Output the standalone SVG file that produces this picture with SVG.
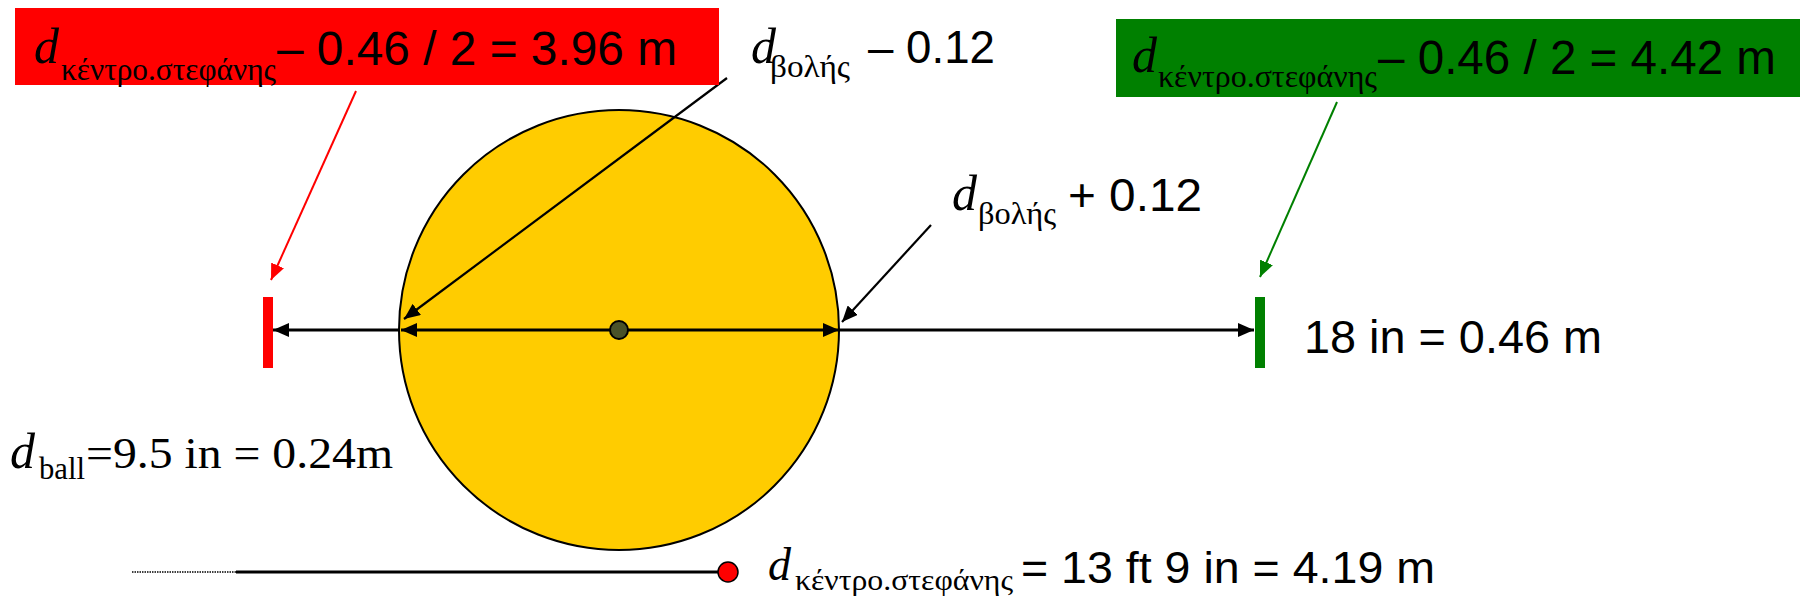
<svg xmlns="http://www.w3.org/2000/svg" width="1800" height="604" viewBox="0 0 1800 604">
<style>
.ital{font-family:"Liberation Serif","Times New Roman",serif;font-style:italic}
.ser{font-family:"Liberation Serif","Times New Roman",serif}
.san{font-family:"Liberation Sans",Arial,sans-serif}
.blk{stroke:#000;stroke-width:3;fill:none}
.ptr{stroke:#000;stroke-width:2.2;fill:none}
</style>
<defs>
<marker id="ah" viewBox="0 0 16 14" refX="16" refY="7" markerWidth="16" markerHeight="14" markerUnits="userSpaceOnUse" orient="auto"><path d="M0,0 L16,7 L0,14 z" fill="#000"/></marker>
<marker id="ahr" viewBox="0 0 16 14" refX="16" refY="7" markerWidth="16" markerHeight="14" markerUnits="userSpaceOnUse" orient="auto"><path d="M0,0 L16,7 L0,14 z" fill="#ff0000"/></marker>
<marker id="ahg" viewBox="0 0 16 14" refX="16" refY="7" markerWidth="16" markerHeight="14" markerUnits="userSpaceOnUse" orient="auto"><path d="M0,0 L16,7 L0,14 z" fill="#008000"/></marker>
</defs>
<rect width="1800" height="604" fill="#fff"/>

<g id="circle">
<circle cx="619" cy="330" r="220" fill="#ffcc00" stroke="#000" stroke-width="2"/>
</g>

<g id="connectors">
<line class="blk" x1="399" y1="330" x2="273" y2="330" marker-end="url(#ah)"/>
<line class="blk" x1="619" y1="330" x2="401" y2="330" marker-end="url(#ah)"/>
<line class="blk" x1="619" y1="330" x2="839" y2="330" marker-end="url(#ah)"/>
<line class="blk" x1="839" y1="330" x2="1254" y2="330" marker-end="url(#ah)"/>
<line x1="356" y1="91" x2="271" y2="280" stroke="#ff0000" stroke-width="2" marker-end="url(#ahr)"/>
<line class="ptr" x1="727" y1="78" x2="404" y2="319" marker-end="url(#ah)"/>
<line class="ptr" x1="931" y1="225" x2="842" y2="322" marker-end="url(#ah)"/>
<line x1="1337" y1="102" x2="1260" y2="277" stroke="#008000" stroke-width="2" marker-end="url(#ahg)"/>
<line x1="132" y1="572" x2="236" y2="572" stroke="#000" stroke-width="1.5" stroke-dasharray="1.5,1"/>
<line x1="236" y1="572" x2="719" y2="572" stroke="#000" stroke-width="3"/>
</g>

<g id="center-dot">
<circle cx="619" cy="330" r="9" fill="#4a5229" stroke="#000" stroke-width="2"/>
</g>

<g id="red-bar"><rect x="263" y="297" width="10" height="71" fill="#ff0000"/></g>
<g id="green-bar"><rect x="1255" y="297" width="10" height="71" fill="#008000"/></g>

<g id="red-box">
<rect x="15" y="8" width="704" height="77" fill="#ff0000"/>
<text class="ital" x="34" y="63" font-size="50">d</text>
<text class="ser" x="61" y="80" font-size="31" textLength="215" lengthAdjust="spacingAndGlyphs">κέντρο.στεφάνης</text>
<text class="san" x="277" y="65" font-size="48" textLength="400" lengthAdjust="spacingAndGlyphs">– 0.46 / 2 = 3.96 m</text>
</g>

<g id="green-box">
<rect x="1116" y="19" width="684" height="78" fill="#008000"/>
<text class="ital" x="1132" y="72" font-size="50">d</text>
<text class="ser" x="1158" y="87" font-size="31" textLength="219" lengthAdjust="spacingAndGlyphs">κέντρο.στεφάνης</text>
<text class="san" x="1378" y="74" font-size="48" textLength="398" lengthAdjust="spacingAndGlyphs">– 0.46 / 2 = 4.42 m</text>
</g>

<g id="label-minus">
<text class="ital" x="751" y="63" font-size="50">d</text>
<text class="ser" x="770" y="77" font-size="31" textLength="80" lengthAdjust="spacingAndGlyphs">βολής</text>
<text class="san" x="868" y="63" font-size="47" textLength="127" lengthAdjust="spacingAndGlyphs">– 0.12</text>
</g>

<g id="label-plus">
<text class="ital" x="952" y="210" font-size="50">d</text>
<text class="ser" x="978" y="224" font-size="31" textLength="78" lengthAdjust="spacingAndGlyphs">βολής</text>
<text class="san" x="1068" y="211" font-size="47" textLength="134" lengthAdjust="spacingAndGlyphs">+ 0.12</text>
</g>

<g id="label-width">
<text class="san" x="1304" y="353" font-size="47" textLength="298" lengthAdjust="spacingAndGlyphs">18 in = 0.46 m</text>
</g>

<g id="label-ball">
<text class="ital" x="10" y="468" font-size="50">d</text>
<text class="ser" x="39" y="479" font-size="31" textLength="46" lengthAdjust="spacingAndGlyphs">ball</text>
<text class="ser" x="86" y="468" font-size="45" textLength="307" lengthAdjust="spacingAndGlyphs">=9.5 in = 0.24m</text>
</g>

<g id="ring-center">
<circle cx="728" cy="572" r="10" fill="#ff0000" stroke="#000" stroke-width="1.5"/>
<text class="ital" x="768" y="580" font-size="46">d</text>
<text class="ser" x="795" y="590" font-size="30" textLength="218" lengthAdjust="spacingAndGlyphs">κέντρο.στεφάνης</text>
<text class="san" x="1021" y="583" font-size="45" textLength="414" lengthAdjust="spacingAndGlyphs">= 13 ft 9 in = 4.19 m</text>
</g>
</svg>
